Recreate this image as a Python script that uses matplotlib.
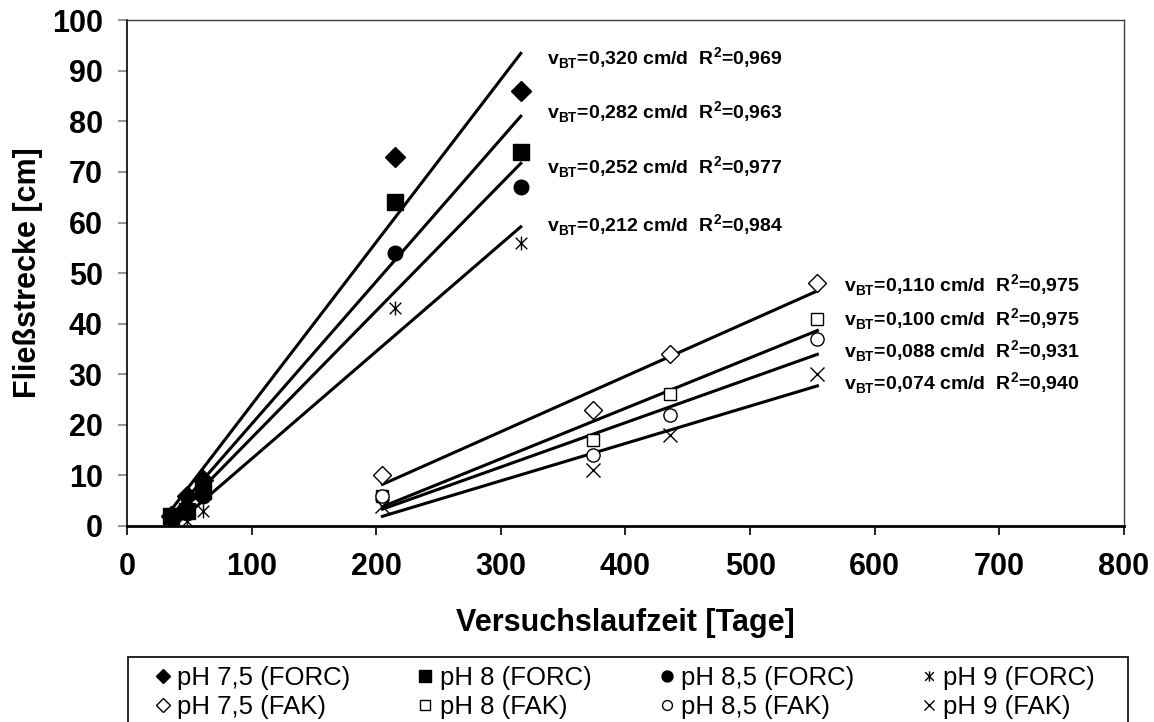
import numpy as np
import matplotlib
matplotlib.use("Agg")
import matplotlib.pyplot as plt
from matplotlib.path import Path
from matplotlib.patches import Rectangle

plt.rcParams['font.family'] = ['Liberation Sans', 'DejaVu Sans']
plt.rcParams['mathtext.fontset'] = 'custom'
plt.rcParams['mathtext.bf'] = 'Liberation Sans:bold'
plt.rcParams['mathtext.rm'] = 'Liberation Sans:bold'

# --- Daten ---
tage_forc = [35, 48, 61, 215, 316]
forc_75 = [2, 6, 9, 73, 86]
forc_8 = [2, 3, 7, 64, 74]
forc_85 = [1.5, 2.5, 6, 54, 67]
forc_9 = [0.5, 1, 3, 43, 56]

tage_fak = [205, 374, 436, 554]
fak_75 = [10, 23, 34, 48]
fak_8 = [6, 17, 26, 41]
fak_85 = [6, 14, 22, 37]
fak_9 = [4, 11, 18, 30]

v_forc = ["0,320", "0,282", "0,252", "0,212"]
r2_forc = ["0,969", "0,963", "0,977", "0,984"]
v_fak = ["0,110", "0,100", "0,088", "0,074"]
r2_fak = ["0,975", "0,975", "0,931", "0,940"]

# Excel-Stern: X mit senkrechtem Strich
stern = Path([(-1, -1), (1, 1), (-1, 1), (1, -1), (0, -1.2), (0, 1.2)],
             [Path.MOVETO, Path.LINETO, Path.MOVETO, Path.LINETO, Path.MOVETO, Path.LINETO])

fig = plt.figure(figsize=(11.54, 7.22), dpi=100)
ax = fig.add_axes([0.110, 0.2715, 0.864, 0.7005])

serien = [
    (tage_forc, forc_75, "pH 7,5 (FORC)", dict(marker="D", ms=10, mfc="black", mec="black")),
    (tage_fak, fak_75, "pH 7,5 (FAK)", dict(marker="D", ms=9.5, mfc="white", mec="black", mew=1)),
    (tage_forc, forc_8, "pH 8 (FORC)", dict(marker="s", ms=11, mfc="black", mec="black")),
    (tage_fak, fak_8, "pH 8 (FAK)", dict(marker="s", ms=9, mfc="white", mec="black", mew=1)),
    (tage_forc, forc_85, "pH 8,5 (FORC)", dict(marker="o", ms=10.5, mfc="black", mec="black")),
    (tage_fak, fak_85, "pH 8,5 (FAK)", dict(marker="o", ms=9.5, mfc="white", mec="black", mew=1)),
    (tage_forc, forc_9, "pH 9 (FORC)", dict(marker=stern, ms=10, mfc="none", mec="black", mew=1)),
    (tage_fak, fak_9, "pH 9 (FAK)", dict(marker="x", ms=10, mec="black", mew=1)),
]

for x, y, name, stil in serien:
    ax.plot(x, y, linestyle="none", label=name, zorder=3, **stil)
    # lineare Trendlinie über den Datenbereich
    m, b = np.polyfit(x, y, 1)
    xs = np.array([min(x), max(x)])
    ax.plot(xs, m * xs + b, color="black", lw=2.2, zorder=2)

# Beschriftungen der Trendlinien
y_forc_txt = [92.5, 81.8, 71.0, 59.5]
for v, r2, yt in zip(v_forc, r2_forc, y_forc_txt):
    ax.text(337, yt, r"v$_\mathbf{BT}$=" + v + r" cm/d  R$^\mathbf{2}$=" + r2,
            fontsize=14, fontweight="bold", va="center", ha="left")
y_fak_txt = [47.6, 40.9, 34.6, 28.3]
for v, r2, yt in zip(v_fak, r2_fak, y_fak_txt):
    ax.text(575, yt, r"v$_\mathbf{BT}$=" + v + r" cm/d  R$^\mathbf{2}$=" + r2,
            fontsize=14, fontweight="bold", va="center", ha="left")

ax.set_xlim(0, 800)
ax.set_ylim(0, 100)
ax.set_xticks(np.arange(0, 801, 100))
ax.set_yticks(np.arange(0, 101, 10))
ax.tick_params(axis="both", labelsize=22, direction="out", length=6.5, width=1.2)
ax.tick_params(axis="y", color="#808080", pad=11)
ax.tick_params(axis="x", pad=12)
for lab in ax.get_xticklabels() + ax.get_yticklabels():
    lab.set_fontweight("bold")

for s in ["top", "right"]:
    ax.spines[s].set_linewidth(1.0)
    ax.spines[s].set_color("#404040")
ax.spines["left"].set_linewidth(1.2)
ax.spines["bottom"].set_linewidth(2.0)

ax.set_xlabel("Versuchslaufzeit [Tage]", fontsize=22, fontweight="bold", labelpad=19)
ax.set_ylabel("Fließstrecke [cm]", fontsize=22, fontweight="bold", labelpad=6)

# Legendenrahmen (unten abgeschnitten wie im Original)
fig.patches.append(Rectangle((128 / 1154, -0.05), 1000 / 1154, 0.05 + 65 / 722,
                             transform=fig.transFigure, fill=False, ec="black", lw=1.2))
fig.legend(loc="upper left", bbox_to_anchor=(150 / 1154, 1 - 666 / 722, 945 / 1154, 0.0),
           mode="expand", ncol=4, fontsize=18.5, frameon=False,
           handletextpad=0.05, handlelength=1.0, borderpad=0.0, labelspacing=0.2,
           borderaxespad=0.0, markerscale=0.75)

fig.savefig("out.png", dpi=100)
